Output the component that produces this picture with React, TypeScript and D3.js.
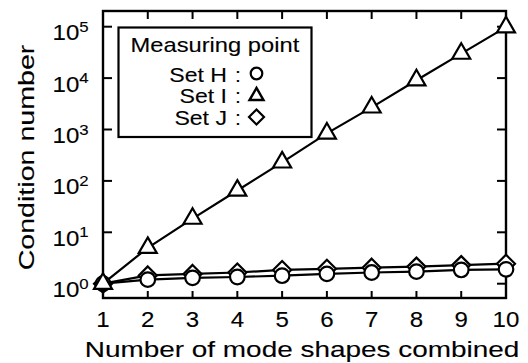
import React from "react";
import * as d3 from "d3";

const xValues = [1, 2, 3, 4, 5, 6, 7, 8, 9, 10];
const setH = [1, 1.2, 1.3, 1.35, 1.43, 1.55, 1.65, 1.72, 1.85, 1.9];
const setI = [1, 5, 18.5, 65, 230, 840, 2700, 9100, 30000, 98000];
const setJ = [1, 1.45, 1.55, 1.65, 1.85, 1.95, 2.05, 2.15, 2.3, 2.45];
const yTickExps = [0, 1, 2, 3, 4, 5];
const legendTitle = "Measuring point";
const legendNames = ["Set H", "Set I", "Set J"];
const xTitle = "Number of mode shapes combined";
const yTitle = "Condition number";

const W = 528, H = 363;
const L = 103, R = 506, T = 11, B = 298;
const FONT = "'Liberation Sans', Arial, Helvetica, sans-serif";
const TS = { stroke: "black", strokeWidth: 0.12 } as const;

export default function App() {
  const x = d3.scaleLinear().domain([1, 10]).range([L, R]);
  const y = d3.scaleLog().domain([Math.pow(10, -14.3 / 51.4), Math.pow(10, 5 + 15.7 / 51.4)]).range([B, T]);
  const line = d3.line<number>().x((_, i) => x(xValues[i])).y((v) => y(v));

  const tri = (cx: number, cy: number, s = 18) => {
    const h = s * 0.866;
    return `M${cx},${cy - (2 * h) / 3}L${cx + s / 2},${cy + h / 3}L${cx - s / 2},${cy + h / 3}Z`;
  };
  const dia = (cx: number, cy: number, r = 9) =>
    `M${cx},${cy - r}L${cx + r},${cy}L${cx},${cy + r}L${cx - r},${cy}Z`;

  const legY = [81.5, 103, 125];
  const legendSym = (i: number, cx: number, cy: number) => {
    if (i === 0) return <circle cx={cx} cy={cy} r={5.8} fill="white" stroke="black" strokeWidth={2.2} />;
    if (i === 1) return <path d={tri(cx, cy + 1, 14)} fill="white" stroke="black" strokeWidth={2.4} />;
    return <path d={dia(cx, cy, 7.5)} fill="white" stroke="black" strokeWidth={2.2} />;
  };

  return (
    <svg width={W} height={H} style={{ position: "absolute", left: 0, top: 0, background: "white" }} fontFamily={FONT}>
      <rect x={0} y={0} width={W} height={H} fill="white" />
      <rect x={L} y={T} width={R - L} height={B - T} fill="none" stroke="black" strokeWidth={2.4} />
      {xValues.map((v) => (
        <g key={"xt" + v}>
          <line x1={x(v)} x2={x(v)} y1={B} y2={B - 7} stroke="black" strokeWidth={2} />
          <line x1={x(v)} x2={x(v)} y1={T} y2={T + 8} stroke="black" strokeWidth={2} />
          <g transform={`translate(${x(v)},327) scale(1.12,1)`}>
            <text x={0} y={0} fontSize={21.5} textAnchor="middle" {...TS}>{v}</text>
          </g>
        </g>
      ))}
      {yTickExps.map((e) => {
        const yy = y(Math.pow(10, e));
        return (
          <g key={"yt" + e}>
            <line x1={L} x2={L + 9} y1={yy} y2={yy} stroke="black" strokeWidth={2} />
            <line x1={R} x2={R - 9} y1={yy} y2={yy} stroke="black" strokeWidth={2} />
            <g transform={`translate(52.5,${yy + 13.5}) scale(1.12,1)`}>
              <text x={0} y={0} fontSize={21.5} {...TS}>
                10<tspan dy={-8.5} fontSize={15}>{e}</tspan>
              </text>
            </g>
          </g>
        );
      })}
      {[setH, setJ, setI].map((s, k) => (
        <path key={"ln" + k} d={line(s) || ""} fill="none" stroke="black" strokeWidth={2.2} />
      ))}
      {setJ.map((v, i) => (
        <path key={"j" + i} d={dia(x(xValues[i]), y(v))} fill="white" stroke="black" strokeWidth={2.2} />
      ))}
      {setH.map((v, i) => (
        <circle key={"h" + i} cx={x(xValues[i])} cy={y(v)} r={7.3} fill="white" stroke="black" strokeWidth={2.2} />
      ))}
      {setI.map((v, i) => (
        <path key={"i" + i} d={tri(x(xValues[i]), y(v))} fill="white" stroke="black" strokeWidth={2.2} />
      ))}
      <rect x={118.5} y={27.5} width={193} height={109.5} fill="white" stroke="black" strokeWidth={2.2} />
      <g transform="translate(130.5,51.7) scale(1.13,1)">
        <text x={0} y={0} fontSize={21} {...TS}>{legendTitle}</text>
      </g>
      {legendNames.map((n, i) => (
        <g key={"lg" + i}>
          <g transform={`translate(227,${legY[i]}) scale(1.1,1)`}>
            <text x={0} y={0} fontSize={21} textAnchor="end" {...TS}>{n}</text>
          </g>
          <text x={238} y={legY[i]} fontSize={21} textAnchor="middle" {...TS}>:</text>
          {legendSym(i, 256.5, legY[i] - 8)}
        </g>
      ))}
      <g transform="translate(302,356.7) scale(1.27,1)">
        <text x={0} y={0} fontSize={22} textAnchor="middle" {...TS}>{xTitle}</text>
      </g>
      <g transform="translate(34,157.5) rotate(-90) scale(1.3,1)">
        <text x={0} y={0} fontSize={22} textAnchor="middle" {...TS}>{yTitle}</text>
      </g>
    </svg>
  );
}
